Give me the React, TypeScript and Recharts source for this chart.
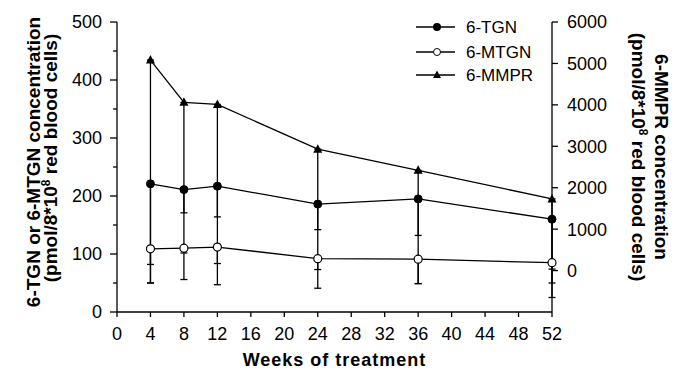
import React from 'react';
import { LineChart, Line, XAxis, YAxis, ErrorBar } from 'recharts';

// weeks of treatment
const weeks = [4, 8, 12, 24, 36, 52];

// means
const tgn = [221, 211, 217, 186, 195, 160];
const mtgn = [109, 110, 112, 92, 91, 85];
const mmpr = [5080, 4060, 4010, 2930, 2420, 1730];

// lower SD, only the downward half is drawn
const tgnLow = [139, 40, 53, 44, 63, 86];
const mtgnLow = [59, 54, 65, 51, 42, 60];
const mmprLow = [5380, 3635, 3840, 2905, 2735, 2030];

const weekTicks = [0, 4, 8, 12, 16, 20, 24, 28, 32, 36, 40, 44, 48, 52];
const leftTicks = [0, 50, 100, 150, 200, 250, 300, 350, 400, 450, 500];
const rightTicks = [0, 1000, 2000, 3000, 4000, 5000, 6000];
const seriesNames = ['6-TGN', '6-MTGN', '6-MMPR'];

const data = weeks.map((week, i) => ({
  week,
  tgn: tgn[i],
  tgnErr: [tgnLow[i], 0],
  mtgn: mtgn[i],
  mtgnErr: [mtgnLow[i], 0],
  mmpr: mmpr[i],
  mmprErr: [mmprLow[i], 0],
}));

const FONT = '"Liberation Sans", Arial, Helvetica, sans-serif';
const SW = 1.3;

const LeftTick = (props: any) => {
  const { x, y, payload } = props;
  const v = payload.value;
  const major = v % 100 === 0;
  const ax = x + 15;
  return (
    <g>
      <line x1={ax - (major ? 7 : 4)} x2={ax} y1={y} y2={y} stroke="#000" strokeWidth={SW} />
      {major && (
        <text x={x} y={y} dy="0.36em" textAnchor="end" fontSize={18} fill="#000">
          {v}
        </text>
      )}
    </g>
  );
};

const Triangle = (props: any) => {
  const { cx, cy, index } = props;
  if (cx == null || cy == null) return <g key={`t${index}`} />;
  return (
    <polygon
      key={`t${index}`}
      points={`${cx},${cy - 5} ${cx - 4.5},${cy + 3.5} ${cx + 4.5},${cy + 3.5}`}
      fill="#000"
    />
  );
};

const Unit = () => (
  <>
    (pmol/8*10<tspan dy={-7} fontSize={12}>8</tspan>
    <tspan dy={7}> red blood cells)</tspan>
  </>
);

const LeftTitle = () => (
  <g fontSize={19} fontWeight="bold" fill="#000">
    <text x={40} y={162} transform="rotate(-90 40 162)" textAnchor="middle">
      6-TGN or 6-MTGN concentration
    </text>
    <text x={57} y={158} transform="rotate(-90 57 158)" textAnchor="middle">
      <Unit />
    </text>
  </g>
);

const RightTitle = () => (
  <g fontSize={19} fontWeight="bold" fill="#000">
    <text x={655} y={157} transform="rotate(90 655 157)" textAnchor="middle">
      6-MMPR concentration
    </text>
    <text x={632} y={157} transform="rotate(90 632 157)" textAnchor="middle">
      <Unit />
    </text>
  </g>
);

const XTitle = () => (
  <text x={334.5} y={366} textAnchor="middle" fontSize={18} fontWeight="bold" letterSpacing={1} fill="#000">
    Weeks of treatment
  </text>
);

const LegendBox = () => {
  const rows = [27, 52, 75];
  return (
    <svg width={140} height={90} style={{ position: 'absolute', left: 410, top: 10, fontFamily: FONT }}>
      {seriesNames.map((name, i) => {
        const cy = rows[i] - 10;
        return (
          <g key={name}>
            <line x1={6} x2={45} y1={cy} y2={cy} stroke="#000" strokeWidth={SW} />
            {i === 0 && <circle cx={27} cy={cy} r={4} fill="#000" />}
            {i === 1 && <circle cx={27} cy={cy} r={3.5} fill="#fff" stroke="#000" strokeWidth={1} />}
            {i === 2 && (
              <polygon points={`27,${cy - 4.5} 23,${cy + 3} 31,${cy + 3}`} fill="#000" />
            )}
            <text x={56} y={cy + 6} fontSize={17} fill="#000">
              {name}
            </text>
          </g>
        );
      })}
    </svg>
  );
};

export default function App() {
  return (
    <div style={{ position: 'absolute', left: 0, top: 0, width: 673, height: 371, background: '#fff', fontFamily: FONT }}>
      <LineChart width={673} height={371} data={data} margin={{ top: 22, right: 61, bottom: 29, left: 57 }}>
        <XAxis
          dataKey="week"
          type="number"
          domain={[0, 52]}
          ticks={weekTicks}
          interval={0}
          tickSize={5}
          tickMargin={10}
          height={30}
          axisLine={{ stroke: '#000', strokeWidth: SW }}
          tickLine={{ stroke: '#000', strokeWidth: SW }}
          tick={{ fill: '#000', fontSize: 18 }}
          label={<XTitle />}
        />
        <YAxis
          yAxisId="left"
          domain={[0, 500]}
          ticks={leftTicks}
          interval={0}
          allowDataOverflow
          width={60}
          tickSize={7}
          tickMargin={8}
          axisLine={{ stroke: '#000', strokeWidth: SW }}
          tickLine={false}
          tick={LeftTick}
          label={<LeftTitle />}
        />
        <YAxis
          yAxisId="right"
          orientation="right"
          domain={[-1000, 6000]}
          ticks={rightTicks}
          interval={0}
          allowDataOverflow
          width={60}
          tickSize={6}
          tickMargin={9}
          axisLine={{ stroke: '#000', strokeWidth: SW }}
          tickLine={{ stroke: '#000', strokeWidth: SW }}
          tick={{ fill: '#000', fontSize: 18 }}
          label={<RightTitle />}
        />
        <Line
          yAxisId="right"
          type="linear"
          dataKey="mmpr"
          name={seriesNames[2]}
          stroke="#000"
          strokeWidth={SW}
          dot={Triangle}
          activeDot={false}
          isAnimationActive={false}
        >
          <ErrorBar dataKey="mmprErr" direction="y" width={3.5} stroke="#000" strokeWidth={SW} isAnimationActive={false} />
        </Line>
        <Line
          yAxisId="left"
          type="linear"
          dataKey="tgn"
          name={seriesNames[0]}
          stroke="#000"
          strokeWidth={SW}
          dot={{ r: 4, fill: '#000', stroke: '#000', strokeWidth: 1 }}
          activeDot={false}
          isAnimationActive={false}
        >
          <ErrorBar dataKey="tgnErr" direction="y" width={3.5} stroke="#000" strokeWidth={SW} isAnimationActive={false} />
        </Line>
        <Line
          yAxisId="left"
          type="linear"
          dataKey="mtgn"
          name={seriesNames[1]}
          stroke="#000"
          strokeWidth={SW}
          dot={{ r: 4, fill: '#fff', stroke: '#000', strokeWidth: 1.2 }}
          activeDot={false}
          isAnimationActive={false}
        >
          <ErrorBar dataKey="mtgnErr" direction="y" width={3.5} stroke="#000" strokeWidth={SW} isAnimationActive={false} />
        </Line>
      </LineChart>
      <LegendBox />
    </div>
  );
}
